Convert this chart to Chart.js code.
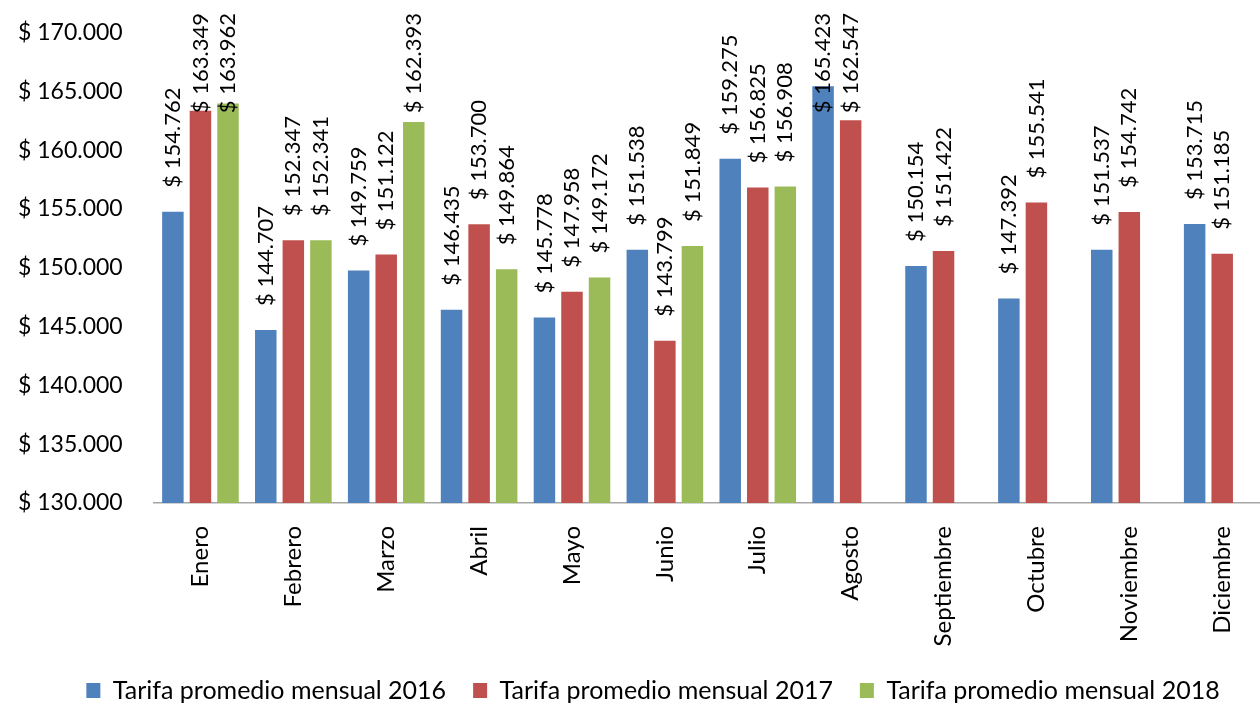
<!DOCTYPE html>
<html>
<head>
<meta charset="utf-8">
<script src="https://cdn.jsdelivr.net/npm/chart.js"></script>
<style>
html, body { margin: 0; padding: 0; overflow: hidden; background: #fff; }
#wrap { position: absolute; left: 0; top: 0; width: 1274px; height: 713px; }
</style>
</head>
<body>
<div id="wrap"><canvas id="myChart1" width="1274" height="713"></canvas></div>
<script>
var meses = ["Enero", "Febrero", "Marzo", "Abril", "Mayo", "Junio", "Julio", "Agosto", "Septiembre", "Octubre", "Noviembre", "Diciembre"];
var tarifa2016 = [154762, 144707, 149759, 146435, 145778, 151538, 159275, 165423, 150154, 147392, 151537, 153715];
var tarifa2017 = [163349, 152347, 151122, 153700, 147958, 143799, 156825, 162547, 151422, 155541, 154742, 151185];
var tarifa2018 = [163962, 152341, 162393, 149864, 149172, 151849, 156908, null, null, null, null, null];
var yMin = 130000;
var yMax = 170000;
var yPaso = 5000;

function miles(n){
	return String(n).replace(/\B(?=(\d{3})+(?!\d))/g, ".");
}

// etiquetas de valor giradas encima de cada barra
var etiquetas = {
	id: "etiquetas",
	afterLayout: function(chart){
		chart.legend.left += 7;
		chart.legend.right += 7;
	},
	afterDatasetsDraw: function(chart){
		var ctx = chart.ctx;
		ctx.save();
		ctx.font = "22px Lato";
		ctx.fillStyle = "#000";
		ctx.textAlign = "left";
		ctx.textBaseline = "middle";
		chart.data.datasets.forEach(function(ds, i){
			var meta = chart.getDatasetMeta(i);
			meta.data.forEach(function(bar, j){
				var v = ds.data[j];
				if(v == null) return;
				var txt = "$ " + miles(v);
				var w = ctx.measureText(txt).width;
				var y = bar.y - 24;
				if(y - w < 13) y = 13 + w;
				ctx.save();
				ctx.translate(bar.x, y);
				ctx.rotate(-Math.PI / 2);
				ctx.fillText(txt, 0, 0);
				ctx.restore();
			});
		});
		ctx.restore();
	}
};

Chart.defaults.font.family = "Lato";
Chart.defaults.color = "#000";

window.bar1 = new Chart(document.getElementById("myChart1"), {
	type: "bar",
	data: {
		labels: meses,
		datasets: [{
			label: "Tarifa promedio mensual 2016",
			data: tarifa2016,
			backgroundColor: "#4F81BD"
		}, {
			label: "Tarifa promedio mensual 2017",
			data: tarifa2017,
			backgroundColor: "#C0504D"
		}, {
			label: "Tarifa promedio mensual 2018",
			data: tarifa2018,
			backgroundColor: "#9BBB59"
		}]
	},
	options: {
		responsive: false,
		animation: false,
		categoryPercentage: 0.89,
		barPercentage: 0.78,
		layout: { padding: { top: 32.5, right: 0, bottom: 0, left: 18 } },
		plugins: {
			legend: {
				position: "bottom",
				labels: {
					boxWidth: 14,
					boxHeight: 15,
					padding: 27,
					font: { size: 25 }
				}
			},
			tooltip: { enabled: false }
		},
		scales: {
			x: {
				grid: { display: false, drawTicks: false },
				border: { display: true, color: "#A6A6A6", width: 1.5 },
				ticks: {
					minRotation: 90,
					maxRotation: 90,
					autoSkip: false,
					padding: 23,
					font: { size: 24 }
				},
				afterFit: function(scale){ scale.height = 148; }
			},
			y: {
				min: yMin,
				max: yMax,
				grid: { display: false, drawTicks: false },
				border: { display: false },
				ticks: {
					stepSize: yPaso,
					padding: 0,
					crossAlign: "far",
					font: { size: 23 },
					callback: function(v){ return "$ " + miles(v); }
				},
				afterFit: function(scale){ scale.width = 136; }
			}
		}
	},
	plugins: [etiquetas]
});
</script>
</body>
</html>
